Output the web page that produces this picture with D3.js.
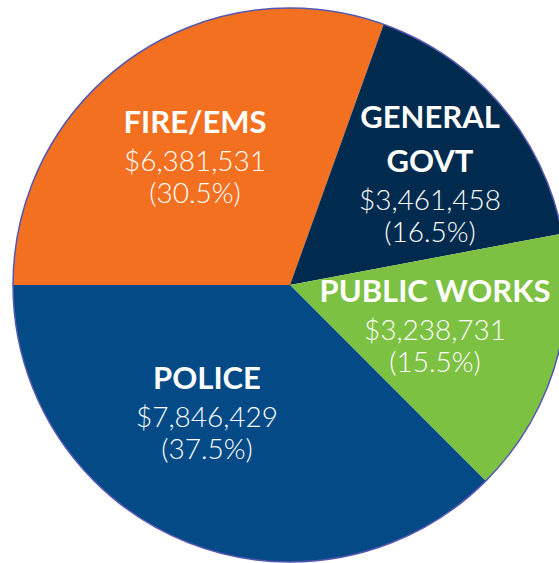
<!DOCTYPE html>
<html>
<head>
<meta charset="utf-8">
<script src="https://cdn.jsdelivr.net/npm/d3@7"></script>
<style>
  html, body { margin: 0; padding: 0; background: #ffffff; }
  svg { display: block; }
</style>
</head>
<body>
<svg id="chart" width="559" height="563"></svg>
<script>
// ---- data ----
const categories = ["FIRE/EMS", "GENERAL GOVT", "PUBLIC WORKS", "POLICE"];
const titleLines = [["FIRE/EMS"], ["GENERAL", "GOVT"], ["PUBLIC WORKS"], ["POLICE"]];
const amounts = [6381531, 3461458, 3238731, 7846429];
const amountLabels = ["$6,381,531", "$3,461,458", "$3,238,731", "$7,846,429"];
const percentLabels = ["(30.5%)", "(16.5%)", "(15.5%)", "(37.5%)"];

// ---- layout / style ----
const W = 559, H = 563;
const cx = 290, cy = 285, R = 277;
const colors = { "FIRE/EMS": "#F37021", "GENERAL GOVT": "#002B4E", "PUBLIC WORKS": "#7DC143", "POLICE": "#034A87" };
// label anchor (x centre, first baseline) relative to pie centre
const labelPos = {
  "FIRE/EMS": [-95, -152],
  "GENERAL GOVT": [140, -157],
  "PUBLIC WORKS": [145, 17],
  "POLICE": [-83, 104]
};
const boldFont = "Lato, 'DejaVu Sans', sans-serif";
const regFont = "Lato, 'DejaVu Sans', sans-serif";
const boldSize = 31, regSize = 28;
const boldStep = 44, boldToReg = 38, regStep = 32;

const data = categories.map((c, i) => ({
  category: c, value: amounts[i], title: titleLines[i],
  amount: amountLabels[i], pct: percentLabels[i]
}));

const svg = d3.select("#chart");
const g = svg.append("g").attr("transform", `translate(${cx},${cy})`);

const pie = d3.pie().sort(null).value(d => d.value)
  .startAngle(-Math.PI / 2).endAngle(3 * Math.PI / 2);
const arc = d3.arc().innerRadius(0).outerRadius(R);

g.selectAll("path.slice").data(pie(data)).join("path")
  .attr("class", "slice")
  .attr("d", arc)
  .attr("fill", d => colors[d.data.category]);

g.append("circle").attr("r", R).attr("fill", "none")
  .attr("stroke", "#5458B0").attr("stroke-width", 1.5);

const labels = g.selectAll("g.label").data(data).join("g")
  .attr("class", "label")
  .attr("transform", d => `translate(${labelPos[d.category][0]},${labelPos[d.category][1]})`);

labels.each(function(d) {
  const sel = d3.select(this);
  let y = 0;
  d.title.forEach((t, i) => {
    if (i > 0) y += boldStep;
    sel.append("text").attr("x", 0).attr("y", y)
      .attr("text-anchor", "middle")
      .attr("font-family", boldFont).attr("font-weight", 700)
      .attr("font-size", boldSize).attr("fill", "#fff").text(t);
  });
  y += boldToReg;
  sel.append("text").attr("x", 0).attr("y", y)
    .attr("text-anchor", "middle")
    .attr("font-family", regFont).attr("font-weight", 300)
    .attr("font-size", regSize).attr("fill", "#fff").text(d.amount);
  y += regStep;
  sel.append("text").attr("x", 0).attr("y", y)
    .attr("text-anchor", "middle")
    .attr("font-family", regFont).attr("font-weight", 300)
    .attr("font-size", regSize).attr("fill", "#fff").text(d.pct);
});
</script>
</body>
</html>
